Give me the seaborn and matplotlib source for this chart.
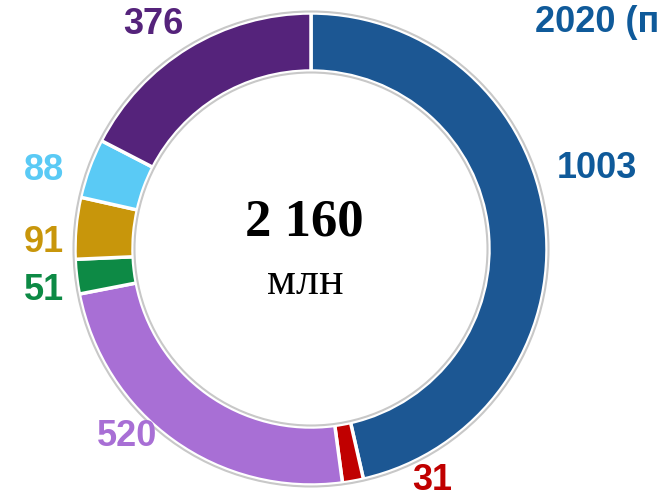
import matplotlib
matplotlib.use("Agg")
import matplotlib.pyplot as plt
import seaborn as sns
from matplotlib.patches import Circle

sns.set_style("white")
plt.rcParams['font.family'] = ['Liberation Sans', 'DejaVu Sans']

# ------------------------------------------------------------
# DATA
# ------------------------------------------------------------
values = [1003, 31, 520, 51, 91, 88, 376]
labels = ["1003", "31", "520", "51", "91", "88", "376"]
colors = ["#1C5793", "#C00000", "#A86FD5", "#0D8A45", "#C8960B", "#5ACAF5", "#55237B"]
label_colors = ["#0F5A9A", "#C00000", "#A86FD5", "#0D8A45", "#C8960B", "#5ACAF5", "#55237B"]
total_text = "2 160"
unit_text = "млн"
title_text = "2020 (прогноз)"

# label positions in pixels (x, y from top)
label_pos = [(597, 168), (432, 480), (127, 437), (44, 291), (44, 243), (44, 170), (153, 25)]

W, H = 659, 497
cx, cy, R, ring = 311, H - 249, 236, 58

fig = plt.figure(figsize=(W / 100, H / 100), dpi=100)
ax = fig.add_axes([0, 0, 1, 1])

palette = sns.color_palette(colors)
ax.pie(values, colors=palette, startangle=90, counterclock=False,
       center=(cx, cy), radius=R,
       wedgeprops=dict(width=ring, edgecolor='white', linewidth=2.5))

# thin grey outlines
ax.add_patch(Circle((cx, cy), R + 1.5, fill=False, edgecolor='#C8C8C8', linewidth=1.5))
ax.add_patch(Circle((cx, cy), R - ring - 1.5, fill=False, edgecolor='#C8C8C8', linewidth=1.5))

for lab, (x, y), c in zip(labels, label_pos, label_colors):
    ax.text(x, H - y, lab, color=c, fontsize=26, fontweight='bold', ha='center', va='center')

ax.text(535, H - 22, title_text, color="#0F5A9A", fontsize=26, fontweight='bold',
        ha='left', va='center')

ax.text(304, H - 223, total_text, fontsize=38, fontweight='bold', ha='center', va='center',
        family=['Liberation Serif', 'DejaVu Serif'], color='black')
ax.text(305, H - 283, unit_text, fontsize=33, ha='center', va='center',
        family=['Liberation Serif', 'DejaVu Serif'], color='black')

ax.set_xlim(0, W)
ax.set_ylim(0, H)
ax.set_aspect('equal')
ax.axis('off')

plt.savefig("out.png", dpi=100)
